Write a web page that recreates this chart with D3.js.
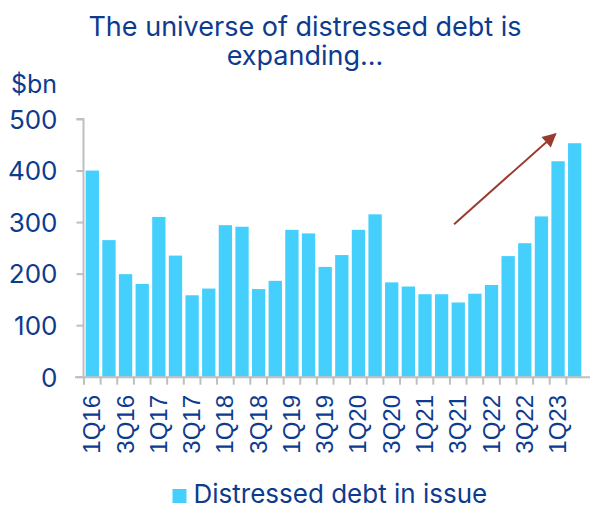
<!DOCTYPE html>
<html>
<head>
<meta charset="utf-8">
<script src="https://cdn.jsdelivr.net/npm/d3@7"></script>
<style>
  html, body { margin: 0; padding: 0; background: #fff; }
  svg { display: block; }
</style>
</head>
<body>
<svg id="chart" width="590" height="506"></svg>
<script>
// Quarterly distressed debt outstanding, $bn
const quarters = [
  "1Q16","2Q16","3Q16","4Q16","1Q17","2Q17","3Q17","4Q17",
  "1Q18","2Q18","3Q18","4Q18","1Q19","2Q19","3Q19","4Q19",
  "1Q20","2Q20","3Q20","4Q20","1Q21","2Q21","3Q21","4Q21",
  "1Q22","2Q22","3Q22","4Q22","1Q23","2Q23"
];
const distressed = [
  400, 265, 199, 180, 310, 235, 158, 171,
  294, 291, 170, 186, 285, 278, 213, 236,
  285, 315, 183, 175, 160, 160, 144, 161,
  178, 234, 259, 311, 418, 453
];
const yTicks = [0, 100, 200, 300, 400, 500];
const titleLines = ["The universe of distressed debt is", "expanding..."];
// Trend arrow: start/end as [quarter position (index), value]
const trendArrow = [[21.75, 296], [27.85, 471]];

const ink = "#0d3b8e";
const barColor = "#45cffd";
const axisColor = "#bfbfbf";

const svg = d3.select("#chart");
const x = d3.scaleBand().domain(quarters).range([84, 583]).paddingInner(0.2).paddingOuter(0.1);
const y = d3.scaleLinear().domain([0, 500]).range([376.7, 119]);
// Continuous position along the quarters (index -> centre of band)
const xPos = d3.scaleLinear()
  .domain([0, quarters.length - 1])
  .range([x(quarters[0]) + x.bandwidth() / 2, x(quarters[quarters.length - 1]) + x.bandwidth() / 2]);

// Title
svg.append("g").selectAll("text")
  .data(titleLines)
  .join("text")
  .attr("x", 305).attr("y", (d, i) => 36 + i * 29)
  .attr("text-anchor", "middle")
  .attr("font-family", "Inter").attr("font-size", 27)
  .attr("fill", ink)
  .text(d => d);

// Unit label
svg.append("text")
  .attr("x", 11).attr("y", 92.7)
  .attr("font-family", "Inter").attr("font-size", 25)
  .attr("fill", ink).text("$bn");

// Bars
svg.append("g").selectAll("rect")
  .data(distressed)
  .join("rect")
  .attr("x", (d, i) => x(quarters[i]))
  .attr("y", d => y(d))
  .attr("width", x.bandwidth())
  .attr("height", d => y(0) - y(d))
  .attr("fill", barColor);

// Y axis
const yAxis = svg.append("g")
  .attr("transform", "translate(83.5,0)")
  .call(d3.axisLeft(y).tickValues(yTicks).tickSize(7).tickPadding(19));
yAxis.select(".domain").attr("stroke", axisColor).attr("stroke-width", 2).attr("d", `M-7,${y(500)}H0V${y(0)}`);
yAxis.selectAll(".tick line").attr("stroke", axisColor).attr("stroke-width", 2);
yAxis.selectAll(".tick text")
  .attr("font-family", "Inter").attr("font-size", 26)
  .attr("fill", ink).attr("dy", "0.36em");

// X axis: tick marks at quarter boundaries
const step = x.step();
const x0 = x.range()[0];
const xAxis = svg.append("g");
xAxis.append("line")
  .attr("x1", 75).attr("x2", 590)
  .attr("y1", y(0) + 0.5).attr("y2", y(0) + 0.5)
  .attr("stroke", axisColor).attr("stroke-width", 2);
xAxis.selectAll("line.qt")
  .data(d3.range(quarters.length))
  .join("line").attr("class", "qt")
  .attr("x1", i => x0 + i * step).attr("x2", i => x0 + i * step)
  .attr("y1", y(0)).attr("y2", y(0) + 8)
  .attr("stroke", axisColor).attr("stroke-width", 2);

// Labels every other quarter
xAxis.selectAll("text")
  .data(quarters.filter((q, i) => i % 2 === 0))
  .join("text")
  .attr("transform", q => `translate(${x(q) + x.bandwidth() / 2 + 8},395) rotate(-90)`)
  .attr("text-anchor", "end")
  .attr("font-family", "Liberation Sans, Arial").attr("font-size", 24)
  .attr("fill", ink)
  .text(q => q);

// Trend arrow
const arrowColor = "#9a3b2e";
svg.append("defs").append("marker")
  .attr("id", "head").attr("viewBox", "0 0 10 10")
  .attr("refX", 9).attr("refY", 5)
  .attr("markerWidth", 8).attr("markerHeight", 7)
  .attr("markerUnits", "strokeWidth")
  .attr("orient", "auto")
  .append("path").attr("d", "M0,0L10,5L0,10Z").attr("fill", arrowColor);
const [a0, a1] = trendArrow;
svg.append("line")
  .attr("x1", xPos(a0[0])).attr("y1", y(a0[1]))
  .attr("x2", xPos(a1[0])).attr("y2", y(a1[1]))
  .attr("stroke", arrowColor).attr("stroke-width", 2)
  .attr("marker-end", "url(#head)");

// Legend
svg.append("rect").attr("x", 172.5).attr("y", 489).attr("width", 14).attr("height", 14).attr("fill", barColor);
svg.append("text")
  .attr("x", 193.5).attr("y", 502.5)
  .attr("font-family", "Inter").attr("font-size", 26)
  .attr("fill", ink).text("Distressed debt in issue");
</script>
</body>
</html>
